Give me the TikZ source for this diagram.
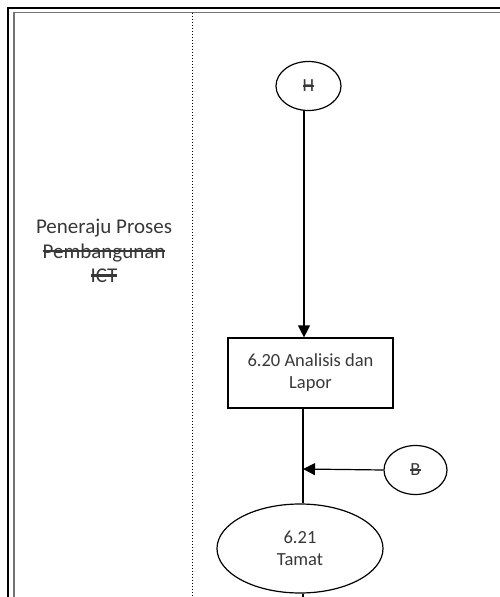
\documentclass[tikz,border=0pt]{standalone}
\usepackage{fontspec}
\setmainfont{Carlito}
\usetikzlibrary{arrows.meta,shapes.geometric,calc}
\definecolor{txt}{HTML}{383838}
\newcommand{\strk}[1]{\setbox0\hbox{#1}\rlap{\rule[0.27em]{\wd0}{0.12em}}\box0}
\tikzset{
  every node/.style={font=\fontsize{18.5}{22}\selectfont, text=txt, align=center},
  lanelabel/.style={font=\fontsize{21}{24.5}\selectfont},
  frameouter/.style={line width=2pt, black},
  frameinner/.style={line width=1.6pt, black!55},
  lanesep/.style={line width=1pt, dotted},
  procbox/.style={draw, line width=1.2pt, minimum width=165pt, minimum height=70pt, inner sep=2pt},
  term/.style={draw, ellipse, line width=1.2pt, inner sep=0pt},
  flow/.style={line width=1.2pt, -{Triangle[length=12pt,width=12pt]}},
  plain/.style={line width=1.2pt}
}
\begin{document}
\begin{tikzpicture}[x=1pt,y=-1pt]
\useasboundingbox (0,0) rectangle (500,597);
% frame
\draw[frameouter] (7.5,597) -- (7.5,8) -- (500,8);
\draw[frameinner] (14,597) -- (14,12.5) -- (500,12.5);
\draw[lanesep] (192,12.5) -- (192,597);
% lane label
\node[lanelabel] (lane) at (104,251) {Peneraju Proses\\\strk{Pembangunan}\\\strk{ICT}};
% nodes
\node[term, minimum width=65pt, minimum height=49pt] (top) at (308.5,86) {\strk{H}};
\node[procbox] (box) at (310.5,373) {6.20 Analisis dan\\Lapor};
\node[term, minimum width=63pt, minimum height=49pt] (conb) at (415.5,470) {\strk{B}};
\node[term, minimum width=166pt, minimum height=89pt] (end) at (300,548.5) {6.21\\Tamat};
\coordinate (L) at (304,0);
\coordinate (bot) at (303,597);
\coordinate (join) at (303,469);
% connectors
\draw[flow] (top.south -| L) -- (box.north -| L);
\draw[plain] (box.south -| bot) -- (end.north -| bot);
\draw[flow] (conb.west) -- (join);
\draw[plain] (end.south -| bot) -- (bot);
\end{tikzpicture}
\end{document}
